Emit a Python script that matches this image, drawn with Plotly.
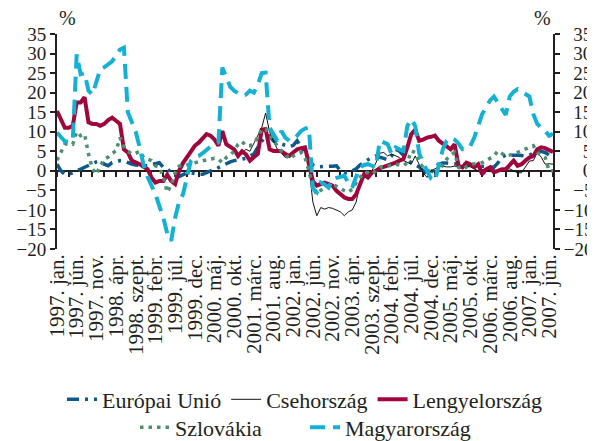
import plotly.graph_objects as go

# Monthly data, 1997 jan. .. 2007 júl. (month index 0..126)
month_labels = ["1997. jan.", "1997. jún.", "1997. nov.", "1998. ápr.", "1998. szept.",
                "1999. febr.", "1999. júl.", "1999. dec.", "2000. máj.", "2000. okt.",
                "2001. márc.", "2001. aug.", "2002. jan.", "2002. jún.", "2002. nov.",
                "2003. ápr.", "2003. szept.", "2004. febr.", "2004. júl.", "2004. dec.",
                "2005. máj.", "2005. okt.", "2006. márc.", "2006. aug.", "2007. jan.",
                "2007. jún."]
label_months = [5 * i for i in range(len(month_labels))]

eu = [1.7, 0, -0.9, -0.9, -0.5, 0, 0.3, 0.8, 1.3, 1.8,
      2.3, 2.6, 1.7, 1.3, 2.1, 2.3, 2.6, 2.5, 2, 1.7,
      1.5, 1.3, 1.3, 1.3, 1.6, 2, 2.1, 0.9, 0.6, -0.5,
      -1.2, -1.5, -1, -0.5, -0.5, -0.8, -0.9, -0.9, -0.4, 0,
      0.3, 0.8, 1.5, 2, 2.3, 2.6, 2.8, 3, 3.2, 3.8,
      4.3, 6, 7.7, 9, 8.9, 7.7, 7.2, 6.8, 6.4, 6.2,
      6.5, 7.7, 6, 4.5, 3, 1.5, 1, 1, 1.2, 1,
      1.2, 1.3, 0, -0.5, -0.5, 0, 0.5, 1.5, 2.1, 2.8,
      3.5, 3.8, 3.6, 3.2, 2.8, 3.8, 5.5, 5, 4, 3,
      2, 1.5, 1, 0, -0.9, -0.5, 1, 1.7, 2, 2,
      1.9, 1.8, 1.7, 1.5, 1.5, 1.5, 1.4, 1.3, 1.2, 1,
      1, 0.9, 2, 3.5, 4, 4, 4.2, 4, 3.9, 3.8,
      4, 4.5, 4.7, 5, 4.7, 4, 3.4]

cz_start = 47
cz = [4.5, 5.5, 5, 7, 9, 11, 14.8, 10, 7.5, 5.5,
      4.5, 3.4, 3.5, 4.5, 5.5, 6, 5.5, 1, -8, -11.5,
      -9.4, -9.8, -9.4, -9.6, -10, -10.5, -11.5, -10.5, -10, -8,
      -3, -1.5, -0.9, 0, 2, 4.5, 4.7, 3.8, 4.3, 3.8,
      3.4, 2.6, 2.1, 1.7, 3.8, 1.5, -0.5, -1.7, 0, 0.5,
      1, 1.2, 1, 1, 1.2, 1, 1, 1.2, 1, 0.5,
      0, 0.3, 0.5, 0.5, 0.2, 0, 0.3, 0.5, 0.5, 0,
      -0.5, -0.5, 1, 2.5, 2.6, 4.7, 3.5, 1.7, 1.8, 1.7]

pl = [15.3, 13, 11, 11, 11.5, 17.5, 17.5, 18.8, 12.4, 12,
      12, 11.5, 12, 13, 13.6, 12.8, 12, 5.5, 4.7, 2.6,
      2.2, 1.7, 1, 0.4, -1.7, -3, -2.6, -2.6, -1, -2.6,
      -3.4, 0, 2, 3.4, 5, 6.4, 7.2, 8.5, 9.4, 9,
      8, 6.4, 10.2, 6.8, 6, 5.5, 3.8, 5, 4.2, 2.6,
      3.5, 4.3, 10.5, 10.7, 5.5, 5.1, 5.1, 5, 4.3, 3.8,
      4.7, 5.5, 5.8, 6, 1.7, -2.6, -3.8, -3.4, -3, -3.4,
      -3.8, -5.1, -6, -6.8, -7.2, -7.2, -6, -3.4, -0.9, -1.7,
      -0.5, 0, 0.7, 1, 1.3, 1.7, 2.1, 2.6, 3, 6,
      9.4, 10.5, 7.7, 8, 8.5, 8.7, 9, 7.7, 7, 6.3,
      5.5, 6.8, 1.3, 0.9, 2.1, 1.7, 0.9, 1.7, -0.9, 0.4,
      0.9, -0.4, 0, 0.4, 0.4, 1.7, 2.6, 1.3, 1.7, 2.6,
      3.4, 3.8, 5.5, 6, 5.8, 5.3, 4.8]

sk = [2.7, 5, 6.8, 7, 6.8, 10, 9, 9.4, 4.3, 0.5,
      -0.9, 1.3, 3, 3.5, 4.5, 5.1, 8.5, 6.2, 5, 4.3,
      4.5, 5, 3.4, 3, 2.6, 1.3, 0.9, -1.5, -5.5, -3.6,
      -0.5, 1.2, 1.3, 1.5, 1.8, 2.1, 2.4, 2.6, 2.8, 3,
      3.2, 3, 2.1, 3.4, 4, 5.1, 6.8, 7.5, 6.4, 6.4,
      7, 8.5, 10.7, 10.7, 9.4, 7.7, 6.5, 5, 4.3, 3,
      3.8, 4.2, 4.7, 3.4, 0, -4.3, -6, -5, -4.3, -3.8,
      -3.4, -4, -4.5, -5.1, -5.5, -4.7, -3, -1.5, -0.4, -0.5,
      -0.9, 0, 0.9, 1, 1.3, 1.5, 1.7, 1.5, 1.3, 2.1,
      5.1, 4.7, 2.1, 0.9, 0.3, -0.4, -0.3, 0, 1.5, 3,
      4, 4.7, 0.9, 0.4, 1, 1.7, 1.8, 1.9, 2.1, 2.6,
      3.2, 3.8, 5.1, 4.5, 3.8, 4, 4.3, 4.7, 5.2, 5.5,
      6, 6.4, 4.7, 4, 3.4, 0, 0]

hu = [9.8, 8.5, 7.5, 7.5, 7.7, 29.8, 24.7, 25, 20.5, 19.5,
      23, 26, 26.5, 27.3, 28, 29.5, 31, 31.5, 15, 12.5,
      10, 6, 1.5, -1.5, -3.5, -6, -9, -12, -16, -17.9,
      -12, -8, -6, -1.5, 2.5, 3.5, 3.8, 4.5, 5.5, 6.2,
      6.8, 7.2, 26.4, 24, 21.5, 20.5, 19.8, 19.2, 19.5, 20.5,
      20, 22, 25, 25.1, 11, 9.5, 7.7, 10.2, 8.5, 7.7,
      8.1, 9, 10.2, 10.8, 11, -4.5, -5.5, -3, -3.5, -4.3,
      -2.1, -1.8, -1.5, -1.3, -3, -4.3, -1.5, 0.9, 1.5, 1.7,
      1.3, 0.9, 7.7, 7.2, 6.8, 4.3, 6, 5.5, 5.1, 11.5,
      13.2, 11.5, 4.5, 2, 0, -2, -2.6, 2, 5.5, 7.7,
      8.5, 8, 7, 5.5, 5.5, 6.4, 8.5, 11.5, 14.5, 16.2,
      18, 19, 17.5, 16, 14.3, 19, 20.2, 20.9, 20.2, 19.8,
      19, 14.5, 12, 11, 10.2, 9, 9.5]

y_ticks = [35, 30, 25, 20, 15, 10, 5, 0, -5, -10, -15, -20]

months = list(range(len(eu)))
cz_months = list(range(cz_start, cz_start + len(cz)))
n_last = len(eu) - 1

FONT = "Liberation Serif"
INK = "#231f20"


def ff(size):
    return dict(family=FONT, size=size, color=INK)


fig = go.Figure()
fig.add_trace(go.Scatter(x=months, y=eu, mode="lines", name="Európai Unió",
                         line=dict(color="#0d5a8a", width=3.5, dash="12px,6px,3px,6px"),
                         legend="legend"))
fig.add_trace(go.Scatter(x=cz_months, y=cz, mode="lines", name="Csehország",
                         line=dict(color="#111111", width=1), legend="legend"))
fig.add_trace(go.Scatter(x=months, y=pl, mode="lines", name="Lengyelország",
                         line=dict(color="#a0063c", width=4), legend="legend"))
fig.add_trace(go.Scatter(x=months, y=sk, mode="lines", name="Szlovákia",
                         line=dict(color="#4e8f70", width=3.5, dash="3.5px,5px"),
                         legend="legend2"))
fig.add_trace(go.Scatter(x=months, y=hu, mode="lines", name="Magyarország",
                         line=dict(color="#14b1d4", width=4, dash="15px,8px"),
                         legend="legend2"))
# invisible helper trace so that the zero-line axis and the right axis are drawn
fig.add_trace(go.Scatter(x=[0, n_last], y=[0, 0], mode="lines", xaxis="x2",
                         yaxis="y2", line=dict(width=0), hoverinfo="skip",
                         showlegend=False))


def fmt(v):
    s = str(abs(v))
    return ("\u2212" + s) if v < 0 else s


def right_label(v):
    s = fmt(v)
    if v >= 0:
        pad = 2 if abs(v) < 10 else 1
    else:
        pad = 1 if abs(v) < 10 else 0
    return "\u2007" * pad + s


axis_common = dict(showline=True, linecolor=INK, linewidth=2, ticks="outside",
                   ticklen=5, tickwidth=2, tickcolor=INK, showgrid=False,
                   zeroline=False)

# the page body adds an 8px offset; margins compensate so that the plot
# area sits at x 57..553, y 34..249 of the browser window
fig.update_layout(
    width=595, height=441,
    margin=dict(l=49, r=50, t=26, b=200, autoexpand=False),
    paper_bgcolor="white", plot_bgcolor="white",
    font=ff(20),
    xaxis=dict(range=[0, n_last], tickmode="array", tickvals=label_months,
               ticktext=month_labels, tickangle=-90, showline=False, ticks="",
               showgrid=False, zeroline=False, tickfont=ff(21), automargin=False),
    xaxis2=dict(range=[0, n_last], overlaying="x", anchor="free",
                position=20 / 55, tickmode="linear", tick0=0, dtick=3,
                showticklabels=False, layer="below traces", **axis_common),
    yaxis=dict(range=[-20, 35], tickmode="array", tickvals=y_ticks,
               ticktext=[fmt(v) for v in y_ticks], tickfont=ff(19),
               automargin=False, **axis_common),
    yaxis2=dict(range=[-20, 35], overlaying="y", side="right", anchor="x",
                tickmode="array", tickvals=y_ticks,
                ticktext=[right_label(v) for v in y_ticks],
                tickfont=ff(19), automargin=False, **axis_common),
    legend=dict(orientation="h", x=0.5, xanchor="center", y=-0.70, yanchor="middle",
                font=ff(22), bgcolor="rgba(0,0,0,0)", itemwidth=30,
                tracegroupgap=0),
    legend2=dict(orientation="h", x=0.5, xanchor="center", y=-0.83, yanchor="middle",
                 font=ff(22), bgcolor="rgba(0,0,0,0)", itemwidth=30,
                 entrywidth=125, tracegroupgap=0),
    annotations=[
        dict(text="%", xref="paper", yref="paper", x=0, y=1, xanchor="left",
             yanchor="middle", yshift=16, showarrow=False, font=ff(20)),
        dict(text="%", xref="paper", yref="paper", x=1, y=1, xanchor="right",
             yanchor="middle", yshift=16, showarrow=False, font=ff(20)),
    ],
    showlegend=True,
)

fig.write_html("out.html", config={"displayModeBar": False})
